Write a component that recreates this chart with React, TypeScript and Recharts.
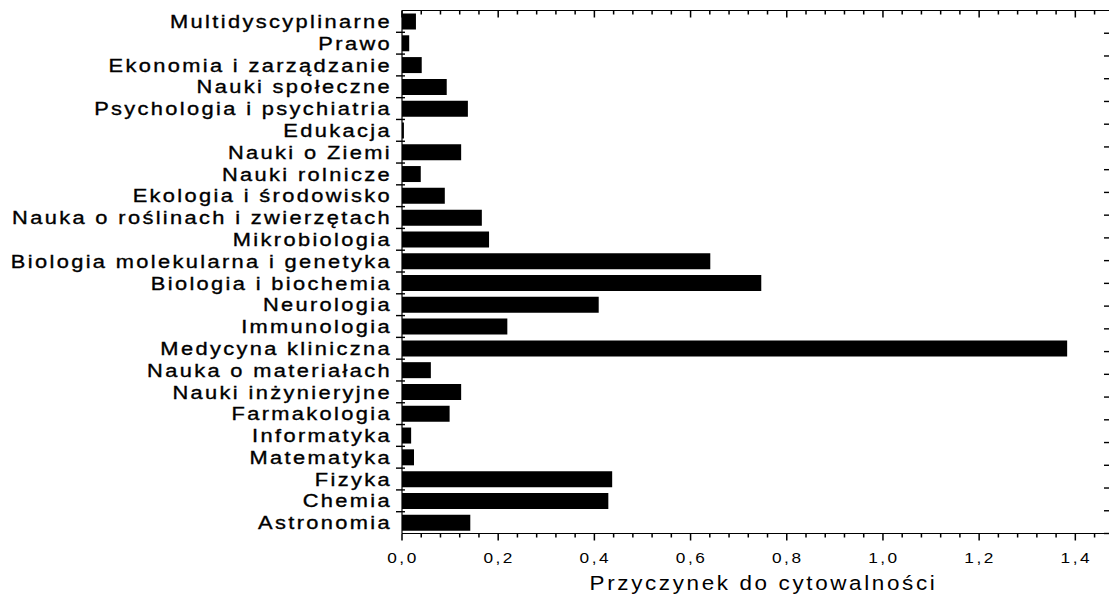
import React from 'react';
import { BarChart, Bar, XAxis, YAxis } from 'recharts';

const FONT = '"Liberation Sans", Arial, Helvetica, sans-serif';

const categories = [
  'Multidyscyplinarne',
  'Prawo',
  'Ekonomia i zarządzanie',
  'Nauki społeczne',
  'Psychologia i psychiatria',
  'Edukacja',
  'Nauki o Ziemi',
  'Nauki rolnicze',
  'Ekologia i środowisko',
  'Nauka o roślinach i zwierzętach',
  'Mikrobiologia',
  'Biologia molekularna i genetyka',
  'Biologia i biochemia',
  'Neurologia',
  'Immunologia',
  'Medycyna kliniczna',
  'Nauka o materiałach',
  'Nauki inżynieryjne',
  'Farmakologia',
  'Informatyka',
  'Matematyka',
  'Fizyka',
  'Chemia',
  'Astronomia',
];

const values = [
  0.029, 0.015, 0.041, 0.093, 0.137, 0.004, 0.123, 0.039, 0.089, 0.166, 0.181,
  0.641, 0.747, 0.409, 0.219, 1.383, 0.06, 0.123, 0.099, 0.019, 0.025, 0.437,
  0.429, 0.142,
];

const xMajorTicks = [0, 0.2, 0.4, 0.6, 0.8, 1.0, 1.2, 1.4];
const xTickLabels = ['0,0', '0,2', '0,4', '0,6', '0,8', '1,0', '1,2', '1,4'];
const xAllTicks = [
  0, 0.04, 0.08, 0.12, 0.16, 0.2, 0.24, 0.28, 0.32, 0.36, 0.4, 0.44, 0.48, 0.52,
  0.56, 0.6, 0.64, 0.68, 0.72, 0.76, 0.8, 0.84, 0.88, 0.92, 0.96, 1.0, 1.04,
  1.08, 1.12, 1.16, 1.2, 1.24, 1.28, 1.32, 1.36, 1.4, 1.44,
];
const xDomain = [0, 1.47];
const bandBoundaries = [
  1, 2, 3, 4, 5, 6, 7, 8, 9, 10, 11, 12, 13, 14, 15, 16, 17, 18, 19, 20, 21, 22, 23,
];
const xTitle = 'Przyczynek do cytowalności';

const data = categories.map((name, i) => ({ name, value: values[i] }));

const majorIndex = (v: number) => xMajorTicks.findIndex((m) => Math.abs(m - v) < 1e-6);

const LINE = { stroke: '#000', strokeWidth: 1.2 };

const xPos = (vb: any, v: number) =>
  vb.x + ((v - xDomain[0]) / (xDomain[1] - xDomain[0])) * vb.width;

const CatTick = (props: any) => {
  const { x, y, payload } = props;
  return (
    <text
      transform={`translate(${x - 10},${y}) scale(1.18,1)`}
      x={0}
      y={0}
      dy="0.36em"
      textAnchor="end"
      fontFamily={FONT}
      fontSize={18.5}
      letterSpacing={2}
      fill="#000"
      stroke="#000"
      strokeWidth={0.35}
    >
      {payload.value}
    </text>
  );
};

const BottomTick = (props: any) => {
  const { x, y, payload } = props;
  const idx = majorIndex(payload.value);
  if (idx < 0) return <g />;
  return (
    <text
      transform={`translate(${x + 1},${y + 29}) scale(1.15,1)`}
      x={0}
      y={0}
      textAnchor="middle"
      fontFamily={FONT}
      fontSize={15}
      letterSpacing={2.2}
      fill="#000"
    >
      {xTickLabels[idx]}
    </text>
  );
};

const RightBoundTick = (props: any) => {
  const { x, y } = props;
  return <rect x={x - 5} y={y - 0.7} width={5} height={1.4} fill="#000" />;
};

const BottomDecor = (props: any) => {
  const vb = props.viewBox || { x: 0, y: 0, width: 0 };
  return (
    <g>
      {xAllTicks.map((v) => {
        const x = xPos(vb, v);
        const major = majorIndex(v) >= 0;
        return (
          <rect key={`b${v}`} x={x - 0.75} y={vb.y} width={1.5} height={major ? 7 : 4} fill="#000" />
        );
      })}
      <text
        transform={`translate(${vb.x + vb.width / 2 + 8},${vb.y + 56}) scale(1.15,1)`}
        x={0}
        y={0}
        textAnchor="middle"
        fontFamily={FONT}
        fontSize={19.5}
        letterSpacing={2.3}
        fill="#000"
      >
        {xTitle}
      </text>
    </g>
  );
};

const TopDecor = (props: any) => {
  const vb = props.viewBox || { x: 0, y: 0, width: 0 };
  return (
    <g>
      {xAllTicks.map((v) => {
        const x = xPos(vb, v);
        const major = majorIndex(v) >= 0;
        return (
          <rect key={`t${v}`} x={x - 0.75} y={vb.y} width={1.5} height={major ? 7 : 4} fill="#000" />
        );
      })}
    </g>
  );
};

const LeftDecor = (props: any) => {
  const vb = props.viewBox || { x: 0, y: 0, width: 0, height: 0 };
  const band = vb.height / categories.length;
  const ax = vb.x + vb.width;
  return (
    <g>
      {bandBoundaries.map((k) => (
        <rect key={`l${k}`} x={ax - 6} y={vb.y + k * band - 0.7} width={9} height={1.4} fill="#000" />
      ))}
    </g>
  );
};

export default function App() {
  return (
    <div style={{ position: 'absolute', left: 0, top: 0, width: 1113, height: 600, background: '#fff' }}>
      <BarChart
        width={1113}
        height={600}
        data={data}
        layout="vertical"
        margin={{ top: 10.5, right: 4, bottom: 65.5, left: 0 }}
        barCategoryGap={0}
      >
        <YAxis
          yAxisId="rbounds"
          type="number"
          orientation="right"
          mirror
          domain={[0, 24]}
          ticks={bandBoundaries}
          allowDataOverflow
          axisLine={false}
          tickLine={false}
          tickSize={0}
          tickMargin={0}
          interval={0}
          tick={<RightBoundTick />}
        />
        <YAxis
          yAxisId="cat"
          type="category"
          dataKey="name"
          width={402}
          axisLine={LINE}
          tickLine={false}
          tickSize={0}
          tickMargin={0}
          interval={0}
          tick={<CatTick />}
          label={<LeftDecor />}
        />
        <XAxis
          xAxisId="bottom"
          type="number"
          orientation="bottom"
          domain={xDomain}
          ticks={xAllTicks}
          allowDataOverflow
          height={1}
          axisLine={LINE}
          tickLine={false}
          tickSize={0}
          tickMargin={0}
          interval={0}
          tick={<BottomTick />}
          label={<BottomDecor />}
        />
        <XAxis
          xAxisId="top"
          type="number"
          orientation="top"
          mirror
          domain={xDomain}
          ticks={xMajorTicks}
          allowDataOverflow
          height={1}
          axisLine={LINE}
          tickLine={false}
          interval={0}
          tick={false}
          label={<TopDecor />}
        />
        <Bar
          dataKey="value"
          yAxisId="cat"
          xAxisId="bottom"
          fill="#000"
          barSize={16}
          isAnimationActive={false}
        />
      </BarChart>
    </div>
  );
}
